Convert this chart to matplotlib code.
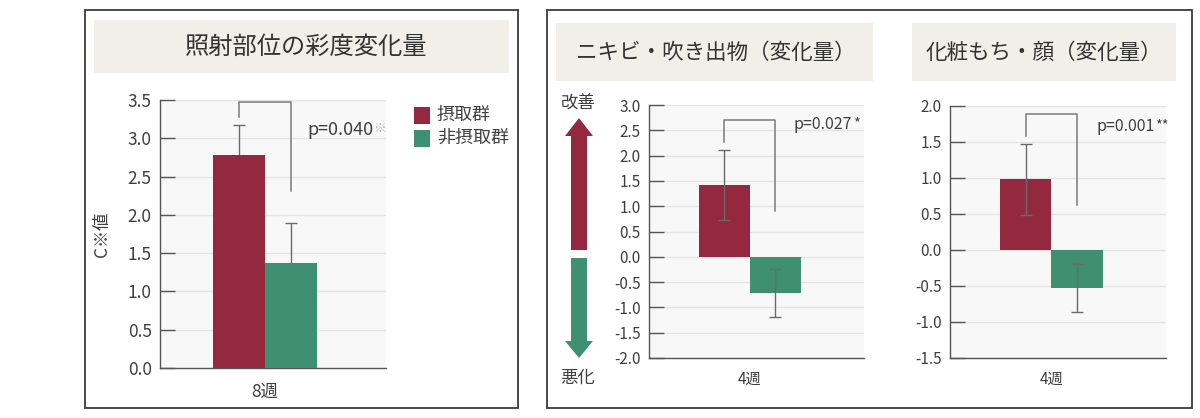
import matplotlib
matplotlib.use("Agg")
import matplotlib.pyplot as plt
from matplotlib.patches import Rectangle, FancyArrow

plt.rcParams["font.family"] = ["Noto Sans CJK JP", "DejaVu Sans"]

W, H = 1200, 418
RED = "#93283f"
GREEN = "#3e9070"
TXT = "#3f3f3f"
GRID = "#e4e4e4"
BAND = "#f2efe9"
FRAME = "#3a3a3a"

groups = ["摂取群", "非摂取群"]

# panel 1: 照射部位の彩度変化量
p1_title = "照射部位の彩度変化量"
p1_cat = "8週"
p1_vals = [2.78, 1.37]
p1_err = [0.39, 0.53]
p1_bracket = [3.48, 3.28, 2.31]   # top, left leg end, right leg end
p1_p = "p=0.040"
p1_mark = "※"
p1_ylim = (0, 3.5)

# panel 2: ニキビ・吹き出物
p2_title = "ニキビ・吹き出物（変化量）"
p2_cat = "4週"
p2_vals = [1.42, -0.72]
p2_err = [0.70, 0.47]
p2_bracket = [2.70, 2.27, 0.90]
p2_p = "p=0.027"
p2_mark = "*"
p2_ylim = (-2.0, 3.0)

# panel 3: 化粧もち・顔
p3_title = "化粧もち・顔（変化量）"
p3_cat = "4週"
p3_vals = [0.98, -0.53]
p3_err = [0.49, 0.33]
p3_bracket = [1.89, 1.59, 0.62]
p3_p = "p=0.001"
p3_mark = "**"
p3_ylim = (-1.5, 2.0)


def fig_rect(x0, y0, x1, y1):
    # pixel box (top-left origin) -> figure fraction
    return [x0 / W, 1 - y1 / H, (x1 - x0) / W, (y1 - y0) / H]


fig = plt.figure(figsize=(W / 100, H / 100), dpi=100)
fig.patch.set_facecolor("white")

# overlay in pixel coordinates for frames, title bands, arrows
bg = fig.add_axes([0, 0, 1, 1])
bg.set_xlim(0, W)
bg.set_ylim(H, 0)
bg.axis("off")
bg.add_patch(Rectangle((85, 10), 433, 398, fill=False, ec=FRAME, lw=1.3))
bg.add_patch(Rectangle((547, 10), 645, 398, fill=False, ec=FRAME, lw=1.3))
bg.add_patch(Rectangle((94, 20), 415, 53, fc=BAND, ec="none"))
bg.add_patch(Rectangle((556, 23), 317, 58, fc=BAND, ec="none"))
bg.add_patch(Rectangle((912, 23), 264, 58, fc=BAND, ec="none"))
bg.text(306, 47, p1_title, ha="center", va="center", fontsize=17.5, color="#333333")
bg.text(716, 53, p2_title, ha="center", va="center", fontsize=15.5, color="#333333")
bg.text(1044, 53, p3_title, ha="center", va="center", fontsize=15.5, color="#333333")

# improve / worsen arrows
bg.add_patch(FancyArrow(579, 250, 0, -132, width=16, head_width=28, head_length=18,
                        length_includes_head=True, fc=RED, ec="none"))
bg.add_patch(FancyArrow(579, 258, 0, 100, width=16, head_width=28, head_length=17,
                        length_includes_head=True, fc=GREEN, ec="none"))
bg.text(578, 104, "改善", ha="center", va="center", fontsize=12.5, color=TXT)
bg.text(578, 378, "悪化", ha="center", va="center", fontsize=12.5, color=TXT)

# legend for panel 1
bg.add_patch(Rectangle((414, 107), 16, 17, fc=RED, ec="none"))
bg.add_patch(Rectangle((414, 130), 16, 17, fc=GREEN, ec="none"))
bg.text(437, 115, groups[0], ha="left", va="center", fontsize=13, color=TXT)
bg.text(437, 138, groups[1], ha="left", va="center", fontsize=13, color=TXT)


def panel(box, vals, err, ylim, step, cat, bracket, ptxt, xl, fs, below, xpad):
    ax = fig.add_axes(fig_rect(*box))
    ax.set_facecolor("#f8f8f8")
    xs = [-0.5, 0.5]
    ax.bar(xs, vals, width=1.0, color=[RED, GREEN], zorder=3)
    ax.errorbar(xs, vals, yerr=err, fmt="none", ecolor="#6a6a6a", elinewidth=1.0,
                capsize=4, capthick=1.0, zorder=2 if below else 4)
    top, l_end, r_end = bracket
    ax.plot([xs[0], xs[0], xs[1], xs[1]], [l_end, top, top, r_end],
            color="#7a7a7a", lw=1.1, zorder=5, clip_on=False)
    ax.set_xlim(*xl)
    ax.set_ylim(*ylim)
    n = int(round((ylim[1] - ylim[0]) / step))
    ticks = [ylim[0] + i * step for i in range(n + 1)]
    ax.set_yticks(ticks)
    ax.set_yticklabels([f"{t:.1f}" for t in ticks])
    ax.yaxis.grid(True, color=GRID, lw=1.0, zorder=0)
    ax.set_axisbelow(True)
    ax.set_xticks([0])
    ax.set_xticklabels([cat])
    ax.tick_params(axis="x", length=0, pad=xpad, labelsize=fs, labelcolor=TXT)
    ax.tick_params(axis="y", direction="in", length=11, width=1.0, color="#555555",
                   labelsize=fs, labelcolor=TXT, pad=6)
    for s in ("top", "right"):
        ax.spines[s].set_visible(False)
    for s in ("left", "bottom"):
        ax.spines[s].set_color("#555555")
        ax.spines[s].set_linewidth(1.0)
    t = ax.text(0.9, top, ptxt, ha="left", va="center", fontsize=fs + 0.5,
                color=TXT, zorder=6)
    return ax, t


ax1, t1 = panel((160, 100, 386, 368), p1_vals, p1_err, p1_ylim, 0.5, p1_cat,
                p1_bracket, p1_p, (-2.02, 2.33), 12.5, True, 11)
t1.set_position((0.81, 3.11))
ax1.set_ylabel("C※値", fontsize=12.5, color=TXT, labelpad=12)

ax2, t2 = panel((649, 105, 864, 358), p2_vals, p2_err, p2_ylim, 0.5, p2_cat,
                p2_bracket, p2_p, (-1.98, 2.24), 11, False, 9)
t2.set_position((0.86, 2.62))

ax3, t3 = panel((950, 106, 1166, 358), p3_vals, p3_err, p3_ylim, 0.5, p3_cat,
                p3_bracket, p3_p, (-1.98, 2.24), 11, False, 9)
t3.set_position((0.88, 1.72))

# superscript marks after the p-values
fig.canvas.draw()
r = fig.canvas.get_renderer()
for t, mark, col, fs in ((t1, p1_mark, "#b0b0b0", 9), (t2, p2_mark, TXT, 10.5),
                         (t3, p3_mark, TXT, 10.5)):
    bb = t.get_window_extent(r)
    x, y = fig.transFigure.inverted().transform((bb.x1 + 0.5, bb.y1 - 1))
    fig.text(x, y, mark, ha="left", va="top", fontsize=fs, color=col)

fig.savefig("out.png", dpi=100)
